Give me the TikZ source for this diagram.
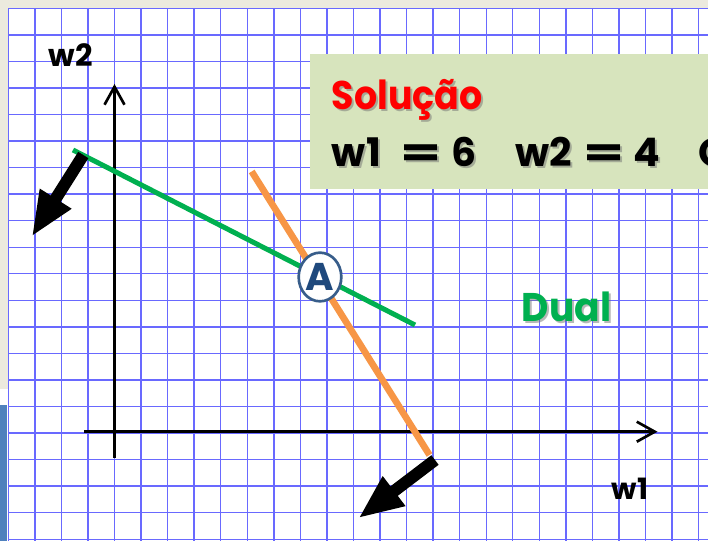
\documentclass[tikz,border=0pt]{standalone}
\usepackage{fontspec}
\setmainfont{Poppins}
\usetikzlibrary{arrows.meta,shapes.geometric}
\definecolor{gridblue}{RGB}{105,105,255}
\definecolor{beige}{RGB}{236,234,222}
\definecolor{sideblue}{RGB}{79,129,189}
\definecolor{boxgreen}{RGB}{215,228,189}
\definecolor{solred}{RGB}{255,0,0}
\definecolor{dualgreen}{RGB}{0,176,80}
\definecolor{lineorange}{RGB}{247,150,70}
\definecolor{aborder}{RGB}{56,93,138}
\definecolor{atext}{RGB}{31,73,125}
\newcommand\eqsign{\scalebox{1.5}[1]{=}}
\begin{document}
\begin{tikzpicture}[x=0.75pt,y=-0.75pt,
  gridline/.style={draw=gridblue,line width=1.05pt},
  axis/.style={draw=black,line width=2pt,-{Straight Barb[length=13.5pt,width=15pt,line width=2pt]}},
  bigarrow/.style={draw=black,line width=9pt,-{Triangle[length=33.75pt,width=25.5pt]}},
  lbl/.style={inner sep=0pt,anchor=base west,font=\bfseries},
  shadowlbl/.style={lbl,text=black!55,opacity=0.5},
  boxfont/.style={font=\bfseries\fontsize{29.5}{36}\selectfont}]
\useasboundingbox (0,0) rectangle (708,541);
\clip (0,0) rectangle (708,541);
\fill[white] (0,0) rectangle (708,541);
% side strips
\fill[beige] (0,0) rectangle (708,8.3);
\fill[beige] (0,0) rectangle (8.3,389);
\fill[sideblue] (0,405) rectangle (7.3,541);
% grid
\foreach \k in {0,...,26} \draw[gridline] ({8.3+26.55*\k},8.3) -- ({8.3+26.55*\k},541);
\foreach \k in {0,...,20} \draw[gridline] (8.3,{8.3+26.55*\k}) -- (708,{8.3+26.55*\k});
% box
\fill[boxgreen] (310,54) rectangle (712,189.3);
\node[shadowlbl,font=\bfseries\fontsize{30}{36}\selectfont] at (333.7,111.3) {\scalebox{0.91}[1]{Solução}};
\node[lbl,text=solred,font=\bfseries\fontsize{30}{36}\selectfont] (sol) at (331.7,109.3) {\scalebox{0.91}[1]{Solução}};
\foreach \xx/\tt [count=\i] in {331.7/w1, 400/\eqsign, 451.7/6, 515/w2, 583/\eqsign, 633/4, 698/O}{
  \node[shadowlbl,boxfont] at ({\xx+2},168.7) {\tt};
  \node[lbl,boxfont] (eq\i) at (\xx,166.7) {\tt};
}
% axes
\coordinate (yb) at (114.5,457.7);
\coordinate (yt) at (114.5,84);
\coordinate (xl) at (84,431.7);
\coordinate (xr) at (657.5,431.7);
\draw[axis] (yb) -- (yt);
\draw[axis] (xl) -- (xr);
\node[lbl,font=\bfseries\fontsize{23}{26}\selectfont] (w2) at (48.3,66.7) {w2};
\node[lbl,font=\bfseries\fontsize{22}{26}\selectfont] (w1) at (611.7,499.3) {w1};
% constraint lines
\coordinate (g1) at (73,150);
\coordinate (g2) at (415,325);
\coordinate (o1) at (251.7,171.5);
\coordinate (o2) at (429.5,455);
\draw[dualgreen,line width=3.75pt] (g1) -- (g2);
\draw[lineorange,line width=5pt] (o1) -- (o2);
% gradient arrows
\coordinate (a1s) at (83.3,155);
\coordinate (a1e) at (31.7,236.7);
\coordinate (a2s) at (435,460);
\coordinate (a2e) at (358.3,518.3);
\draw[bigarrow] (a1s) -- (a1e);
\draw[bigarrow] (a2s) -- (a2e);
% point A
\node[ellipse,draw=aborder,line width=2pt,fill=white,minimum width=32pt,minimum height=36.5pt,inner sep=0pt,
  text=atext,font=\bfseries\fontsize{29}{30}\selectfont] (A) at (320,277) {A};
% Dual label
\node[shadowlbl,font=\bfseries\fontsize{30}{36}\selectfont] at (523.7,323.7) {\scalebox{0.94}[1]{Dual}};
\node[lbl,text=dualgreen,font=\bfseries\fontsize{30}{36}\selectfont] (dual) at (521.7,321.7) {\scalebox{0.94}[1]{Dual}};
\end{tikzpicture}
\end{document}
